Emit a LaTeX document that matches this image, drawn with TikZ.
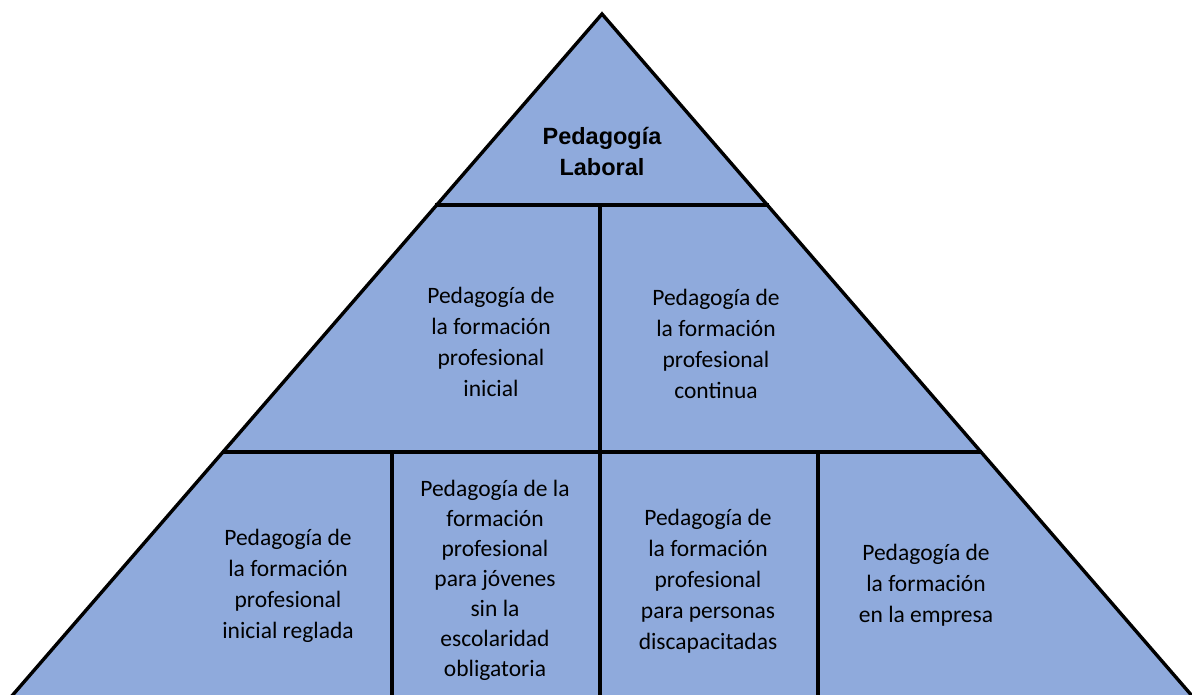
\documentclass[tikz,border=0pt]{standalone}
\usepackage{fontspec}
\setmainfont{Carlito}
\newfontfamily\boldarial{Liberation Sans}
\definecolor{pyrfill}{HTML}{8FAADC}
\begin{document}
\begin{tikzpicture}[x=1pt,y=-1pt,
  edge/.style={line width=3.4pt, draw=black},
  lbl/.style={align=center, font=\fontsize{23.5}{31}\selectfont, inner sep=0pt},
  toplbl/.style={align=center, font=\fontsize{23.5}{31}\selectfont\boldarial\bfseries, inner sep=0pt}]
\useasboundingbox (0,0) rectangle (1192,695);
\clip (0,0) rectangle (1192,695);
% pyramid
\coordinate (apex) at (602,14);
\coordinate (blx) at (-4.6,715);
\coordinate (brx) at (1208.6,715);
\fill[pyrfill] (apex) -- (blx) -- (brx) -- cycle;
% levels
\coordinate (l1a) at (435.2,205);
\coordinate (l1b) at (768.8,205);
\coordinate (l2a) at (222.2,452);
\coordinate (l2b) at (981.8,452);
\draw[edge] (l1a) -- (l1b);
\draw[edge] (l2a) -- (l2b);
% verticals
\coordinate (v0t) at (600,205);
\coordinate (v0b) at (600,452);
\coordinate (v1t) at (392,452);
\coordinate (v1b) at (392,700);
\coordinate (v2t) at (600,452);
\coordinate (v2b) at (600,700);
\coordinate (v3t) at (818,452);
\coordinate (v3b) at (818,700);
\draw[edge] (v0t) -- (v0b);
\draw[edge] (v1t) -- (v1b);
\draw[edge] (v2t) -- (v2b);
\draw[edge] (v3t) -- (v3b);
\draw[edge, line join=miter] (blx) -- (apex) -- (brx);
% labels
\node[toplbl] (top) at (602,151) {Pedagogía\\Laboral};
\node[lbl] (ml) at (491,342) {Pedagogía de\\la formación\\profesional\\inicial};
\node[lbl] (mr) at (716,344) {Pedagogía de\\la formación\\profesional\\continua};
\node[lbl] (b1) at (288,586) {Pedagogía de\\la formación\\profesional\\inicial reglada};
\node[lbl, font=\fontsize{23.5}{30}\selectfont] (b2) at (495,580) {Pedagogía de la\\formación\\profesional\\para jóvenes\\sin la\\escolaridad\\obligatoria};
\node[lbl] (b3) at (708,581) {Pedagogía de\\la formación\\profesional\\para personas\\discapacitadas};
\node[lbl] (b4) at (926,585) {Pedagogía de\\la formación\\en la empresa};
\end{tikzpicture}
\end{document}
